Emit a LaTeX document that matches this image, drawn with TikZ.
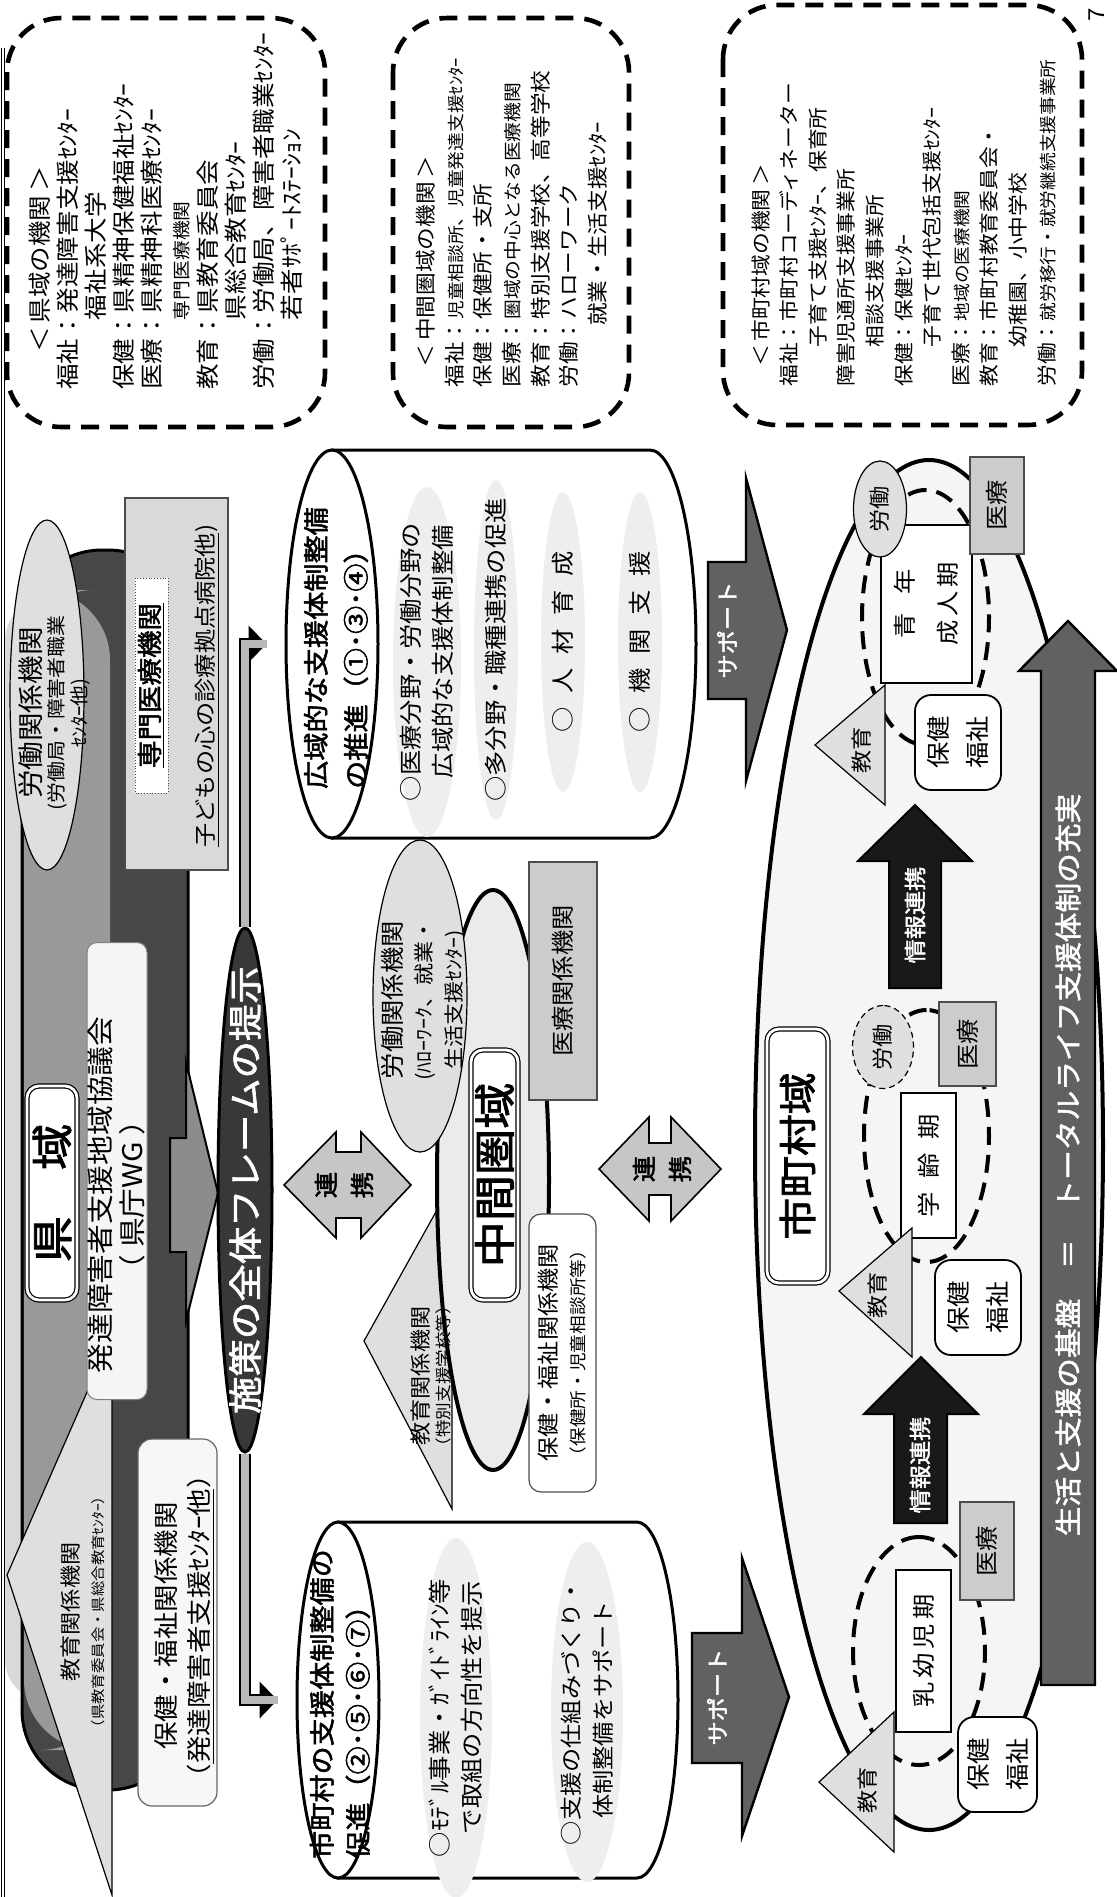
\documentclass[tikz,border=0pt]{standalone}
\usepackage{fontspec}
\setmainfont{Noto Sans CJK JP}[FakeStretch=1.1,AutoFakeBold=2]
\usetikzlibrary{shapes.geometric,arrows.meta}
\newcommand\setfs[2]{\fontsize{#1}{#2}\selectfont}

\tikzset{
  dashbox/.style={draw=black, line width=2.3pt, dash pattern=on 9pt off 5.5pt, rounded corners=27pt},
  listtext/.style={anchor=north west, align=left},
  areabox/.style={draw=black, fill=white, line width=0.6pt, double=white, double distance=1.4pt, rounded corners=6pt, font=\setfs{21}{24}\bfseries},
  graybox/.style={draw=black!70, fill=gray!40, line width=0.6pt},
  hwbox/.style={draw=black, fill=white, line width=0.9pt, rounded corners=8pt, align=center, font=\setfs{12}{19.5}},
  stagebox/.style={draw=black, fill=white, line width=0.6pt},
  laborell/.style={ellipse, draw=black, fill=gray!25, line width=0.6pt},
  lifering/.style={ellipse, draw=black, line width=2pt, dash pattern=on 9pt off 5pt},
  edu/.style={draw=black, fill=gray!25, line width=0.6pt},
  blockarrow/.style={draw=black, line width=1.2pt, fill=black!62},
  band/.style={ellipse, fill=gray!13},
  cylbody/.style={draw=black, line width=1.5pt, fill=white},
  link/.style={draw=gray!55, line width=3.6pt, shorten >=9pt,
    preaction={draw=black, line width=6.4pt, -{Triangle[length=9pt,width=18pt]}}},
}

\begin{document}
\begin{tikzpicture}[x=0.5pt, y=-0.5pt,
    every node/.style={rotate=90, inner sep=0pt, font=\setfs{11.5}{14}}]
  \useasboundingbox (0,0) rectangle (1117,1897);
  \fill[white] (0,0) rectangle (1117,1897);
  \draw[double, line width=0.4pt, double distance=0.8pt] (3,48) -- (3,1897);

  \draw[dashbox] (7,18) rectangle (325,427);
  \node[listtext, font=\setfs{11.6}{14}] (kenlist) at (29,390) {%
    \hspace*{1.6em}＜\,県域の機関\,＞\\
    福祉：発達障害支援ｾﾝﾀｰ\\
    \hspace*{3em}福祉系大学\\
    保健：県精神保健福祉ｾﾝﾀｰ\\
    医療：県精神科医療ｾﾝﾀｰ\\
    \hspace*{3em}{\setfs{9}{14}専門医療機関}\\
    教育：県教育委員会\\
    \hspace*{3em}県総合教育ｾﾝﾀｰ\\
    労働：労働局、障害者職業ｾﾝﾀｰ\\
    \hspace*{3em}若者ｻﾎﾟｰﾄｽﾃｰｼｮﾝ};

  \draw[dashbox] (393,18) rectangle (629,427);
  \node[listtext, font=\setfs{10.3}{14.3}] (chukanlist) at (416,388) {%
    \hspace*{1em}＜\,中間圏域の機関\,＞\\
    福祉：{\setfs{8.5}{14.3}児童相談所、児童発達支援ｾﾝﾀｰ}\\
    保健：保健所・支所\\
    医療：{\setfs{9}{14.3}圏域の中心となる医療機関}\\
    教育：特別支援学校、高等学校\\
    労働：ハローワーク\\
    \hspace*{3em}就業・生活支援ｾﾝﾀｰ};

  \draw[dashbox] (723,5) rectangle (1082,425);
  \node[listtext, font=\setfs{9.9}{14.3}] (shicholist) at (751,387) {%
    \hspace*{1em}＜\,市町村域の機関\,＞\\
    福祉：市町村コーディネーター\\
    \hspace*{2em}子育て支援ｾﾝﾀｰ、保育所\\
    障害児通所支援事業所\\
    \hspace*{2em}相談支援事業所\\
    保健：保健ｾﾝﾀｰ\\
    \hspace*{2em}子育て世代包括支援ｾﾝﾀｰ\\
    医療：{\setfs{8.5}{14.3}地域の医療機関}\\
    教育：市町村教育委員会・\\
    \hspace*{2em}幼稚園、小中学校\\
    労働：{\setfs{8.5}{14.3}就労移行・就労継続支援事業所}};

  \node[font=\setfs{11}{13}] (pagenum) at (1097,15) {7};

  \node[fill=gray!30, rounded corners=20pt, minimum width=550pt, minimum height=25pt] (kenrim) at (30,1150) {};
  \node[draw=black, line width=1.5pt, fill=black!72, rounded corners=40pt, minimum width=620pt, minimum height=83pt] (kenbase) at (105,1170) {};
  \node[fill=black!40, rounded corners=35pt, minimum width=580pt, minimum height=43pt] (kenface) at (67,1170) {};
  \node[laborell, minimum width=175pt, minimum height=37pt] (kenlabor) at (47,695) {};
  \node[align=center, font=\setfs{9.5}{11.5}] (kenlabortext) at (54,713) {{\setfs{13}{15}労働関係機関}\\(労働局・障害者職業\\ｾﾝﾀｰ他)};
  \node[draw=black!70, fill=gray!30, line width=0.6pt, minimum width=186pt, minimum height=51.5pt] (senmon) at (176.5,684) {};
  \node[draw=black!70, densely dotted, fill=white, minimum width=107.5pt, minimum height=16.5pt, font=\setfs{12.5}{14}\bfseries] (senmonin) at (151.5,685.5) {\underline{専門医療機関}};
  \node[font=\setfs{11}{13}] (kodomo) at (207,686) {\underline{子どもの心の診療拠点病院他})};
  \filldraw[edu] (7,1575) -- (112,1335) -- (112,1895) -- cycle;
  \node[align=center, font=\setfs{10.5}{12.5}] (kenedutext) at (83,1612) {教育関係機関\\{\setfs{7}{9}（県教育委員会・県総合教育ｾﾝﾀｰ）}};
  \node[draw=black!50, fill=gray!8, line width=0.5pt, rounded corners=5pt, minimum width=228.5pt, minimum height=30pt] (kyogi) at (117,1171) {};
  \node[align=center, font=\setfs{13.5}{16}] (kyogitext) at (116,1195) {発達障害者支援地域協議会\\（ 県庁WG ）};
  \node[areabox, minimum width=107pt, minimum height=25pt] (kenlabel) at (52,1193) {県\hspace{1.1em}域};
  \node[draw=black!60, fill=gray!6, line width=0.6pt, rounded corners=7pt, minimum width=183.5pt, minimum height=39.5pt] (kenhw) at (177.5,1622.5) {};
  \node[align=center, font=\setfs{12.5}{16.5}] (kenhwtext) at (185,1626) {保健・福祉関係機関\\（\underline{発達障害者支援ｾﾝﾀｰ他}）};
  \filldraw[draw=black, line width=1pt, fill=black!45] (170,1138) -- (186,1138) -- (186,1062) -- (218,1193) -- (186,1321) -- (186,1252) -- (170,1252) -- cycle;

  \node[ellipse, draw=black, line width=1.5pt, fill=black!78, minimum width=262pt, minimum height=27pt] (shisaku) at (245,1190) {};
  \node[text=white, font=\setfs{17}{20}\bfseries] (shisakutext) at (shisaku) {施策の全体フレームの提示};

  \filldraw[cylbody] (332,450) -- (650,450) arc[start angle=90, end angle=-90, x radius=23pt, y radius=97pt] -- (332,838) -- cycle;
  \node[band, minimum width=175pt, minimum height=34pt] (koikiband1) at (427,662) {};
  \node[band, minimum width=170pt, minimum height=22pt] (koikiband2) at (496,650) {};
  \node[band, minimum width=150pt, minimum height=22pt] (koikiband3) at (563,642) {};
  \node[band, minimum width=150pt, minimum height=22pt] (koikiband4) at (640,642) {};
  \node[align=left, font=\setfs{11.5}{16}] (koikiline1) at (427,662) {○医療分野・労働分野の\\\hspace*{1em}広域的な支援体制整備};
  \node (koikiline2) at (496,650) {○多分野・職種連携の促進};
  \node (koikiline3) at (563,642) {○\hspace{.6em}人\hspace{.6em}材\hspace{.6em}育\hspace{.6em}成};
  \node (koikiline4) at (640,642) {○\hspace{.6em}機\hspace{.6em}関\hspace{.6em}支\hspace{.6em}援};
  \node[ellipse, draw=black, line width=1.5pt, fill=white, minimum width=194pt, minimum height=46pt] (koikicap) at (332,644) {};
  \node[align=left, font=\setfs{12.8}{20}\bfseries] (koikititle) at (336,648) {広域的な支援体制整備\\の推進（①･③･④）};

  \filldraw[cylbody] (338,1522) -- (637,1522) arc[start angle=90, end angle=-90, x radius=20.5pt, y radius=89pt] -- (338,1878) -- cycle;
  \node[band, minimum width=180pt, minimum height=36pt] (shichoband1) at (456,1718) {};
  \node[band, minimum width=170pt, minimum height=36pt] (shichoband2) at (587,1712) {};
  \node[align=left, font=\setfs{11.5}{16}] (shicholine1) at (456,1718) {○ﾓﾃﾞﾙ事業・ｶﾞｲﾄﾞﾗｲﾝ等\\\hspace*{1em}で取組の方向性を提示};
  \node[align=left, font=\setfs{11}{16}] (shicholine2) at (587,1712) {○支援の仕組みづくり・\\\hspace*{1.2em}体制整備をサポート};
  \node[ellipse, draw=black, line width=1.5pt, fill=white, minimum width=178pt, minimum height=41pt] (shichocap) at (338,1700) {};
  \node[align=left, font=\setfs{12.8}{18}\bfseries] (shichotitle) at (340,1704) {市町村の支援体制整備の\\促進（②･⑤･⑥･⑦）};

  \draw[link] (shisaku.east) |- (koikicap.north);
  \draw[link] (shisaku.west) |- (shichocap.north);

  \filldraw[edu] (364,1341) -- (452,1183) -- (452,1509) -- cycle;
  \node[ellipse, draw=black, line width=2pt, fill=gray!16, minimum width=290pt, minimum height=56pt] (chukanbase) at (493,1180) {};
  \node[align=center, font=\setfs{10.5}{10.5}] (chukanedutext) at (431,1376) {教育関係機関\\{\setfs{8}{9}（特別支援学校等）}};
  \node[laborell, minimum width=156pt, minimum height=47pt] (chukanlabor) at (420,996) {};
  \node[align=center, font=\setfs{10}{15}] (chukanlabortext) at (423,1000) {{\setfs{12}{15}労働関係機関}\\(ﾊﾛｰﾜｰｸ、就業・\\生活支援ｾﾝﾀｰ)};
  \node[areabox, minimum width=125pt, minimum height=23.5pt] (chukanlabel) at (494.5,1175) {中間圏域};
  \node[graybox, minimum width=119pt, minimum height=34pt] (chukanmed) at (563,981) {医療関係機関};
  \node[draw=black!70, fill=white, line width=0.6pt, rounded corners=6pt, minimum width=139pt, minimum height=33.5pt, align=center, font=\setfs{11}{14}] (chukanhw) at (562.5,1353) {保健・福祉関係機関\\{\setfs{8.5}{10}（保健所・児童相談所等）}};

  \filldraw[draw=black, line width=0.8pt, fill=gray!45] (284,1185) -- (336,1132) -- (336,1152) -- (361,1152) -- (361,1132) -- (411,1185) -- (361,1238) -- (361,1218) -- (336,1218) -- (336,1238) -- cycle;
  \node[align=center, font=\setfs{12}{18}\bfseries] (renkei1) at (344,1185) {連\\携};
  \filldraw[draw=black, line width=0.8pt, fill=gray!45] (599,1169) -- (649,1117) -- (649,1143) -- (671,1143) -- (671,1117) -- (721,1169) -- (671,1221) -- (671,1195) -- (649,1195) -- (649,1221) -- cycle;
  \node[align=center, font=\setfs{12}{18}\bfseries] (renkei2) at (662,1169) {連\\携};

  \filldraw[blockarrow] (708,562) -- (746,562) -- (746,478) -- (787,630) -- (746,781) -- (746,699) -- (708,699) -- cycle;
  \node[text=white, font=\setfs{11}{13}\bfseries] (support1) at (727,630) {サポート};
  \filldraw[blockarrow] (692,1633) -- (742,1633) -- (742,1558) -- (789,1697) -- (742,1836) -- (742,1763) -- (692,1763) -- cycle;
  \node[text=white, font=\setfs{11}{13}\bfseries] (support2) at (717,1697) {サポート};

  \node[ellipse, draw=black, line width=2pt, fill=gray!8, minimum width=685pt, minimum height=174pt] (shichobase) at (929,1145) {};
  \filldraw[blockarrow] (1041,1685) -- (1041,671) -- (1019,671) -- (1068,621) -- (1117,671) -- (1095,671) -- (1095,1685) -- cycle;
  \node[text=white, font=\setfs{13.5}{16}\bfseries] (lifebar) at (1068,1165) {生活と支援の基盤　＝　トータルライフ支援体制の充実};

  \node[lifering, minimum width=114pt, minimum height=66pt] (ring1) at (919,1651) {};
  \node[stagebox, minimum width=81pt, minimum height=27.5pt] (stage1) at (923.5,1651) {乳\,幼\,児\,期};
  \node[graybox, minimum width=49pt, minimum height=27pt] (med1) at (987,1551) {医療};
  \filldraw[edu] (819,1782) -- (894,1712) -- (894,1852) -- cycle;
  \node[font=\setfs{10.5}{12}] (edu1) at (868,1790) {教育};
  \node[hwbox, minimum width=47.5pt, minimum height=39.5pt] (hw1) at (997.5,1764.5) {保健\\福祉};

  \node[lifering, minimum width=126pt, minimum height=62.5pt] (ring2) at (926.5,1136) {};
  \node[stagebox, minimum width=72.5pt, minimum height=27.5pt] (stage2) at (928.5,1165.5) {学\hspace{.6em}齢\hspace{.6em}期};
  \node[laborell, densely dashed, minimum width=41.5pt, minimum height=30.5pt, font=\setfs{10.5}{12}] (labor2) at (883,1047) {労働};
  \node[graybox, minimum width=42pt, minimum height=28.5pt] (med2) at (967.5,1044) {医療};
  \filldraw[edu] (839,1291) -- (912,1228) -- (912,1357) -- cycle;
  \node[font=\setfs{10.5}{12}] (edu2) at (878,1295) {教育};
  \node[hwbox, minimum width=47.5pt, minimum height=43pt] (hw2) at (978,1307.5) {保健\\福祉};

  \node[lifering, minimum width=127.5pt, minimum height=63.5pt] (ring3) at (925.5,617.5) {};
  \node[stagebox, minimum width=79pt, minimum height=45.5pt, align=center, font=\setfs{11.5}{21.5}] (stage3) at (926.5,604) {青\hspace{.8em}年\\成\,人\,期};
  \node[laborell, minimum width=48pt, minimum height=26.5pt, font=\setfs{10.5}{12}] (labor3) at (880,509) {労働};
  \node[graybox, minimum width=48.5pt, minimum height=27pt] (med3) at (997,505.5) {医療};
  \filldraw[edu] (815,745) -- (885,685) -- (885,805) -- cycle;
  \node[font=\setfs{10.5}{12}] (edu3) at (862,750) {教育};
  \node[hwbox, minimum width=47.5pt, minimum height=43pt] (hw3) at (958,742.5) {保健\\福祉};

  \filldraw[draw=black, fill=black!90, line width=1pt] (889,988) -- (889,861) -- (858,861) -- (915,805) -- (972,861) -- (941,861) -- (941,988) -- cycle;
  \node[text=white, font=\setfs{11}{13}\bfseries] (info1) at (915,915) {情報連携};
  \filldraw[draw=black, fill=black!90, line width=1pt] (894,1523) -- (894,1414) -- (864,1414) -- (921,1357) -- (978,1414) -- (947,1414) -- (947,1523) -- cycle;
  \node[text=white, font=\setfs{11}{13}\bfseries] (info2) at (920,1465) {情報連携};

  \node[areabox, minimum width=127pt, minimum height=30.5pt, font=\setfs{19}{22}\bfseries] (shicholabel) at (797.5,1156) {市町村域};
\end{tikzpicture}
\end{document}
